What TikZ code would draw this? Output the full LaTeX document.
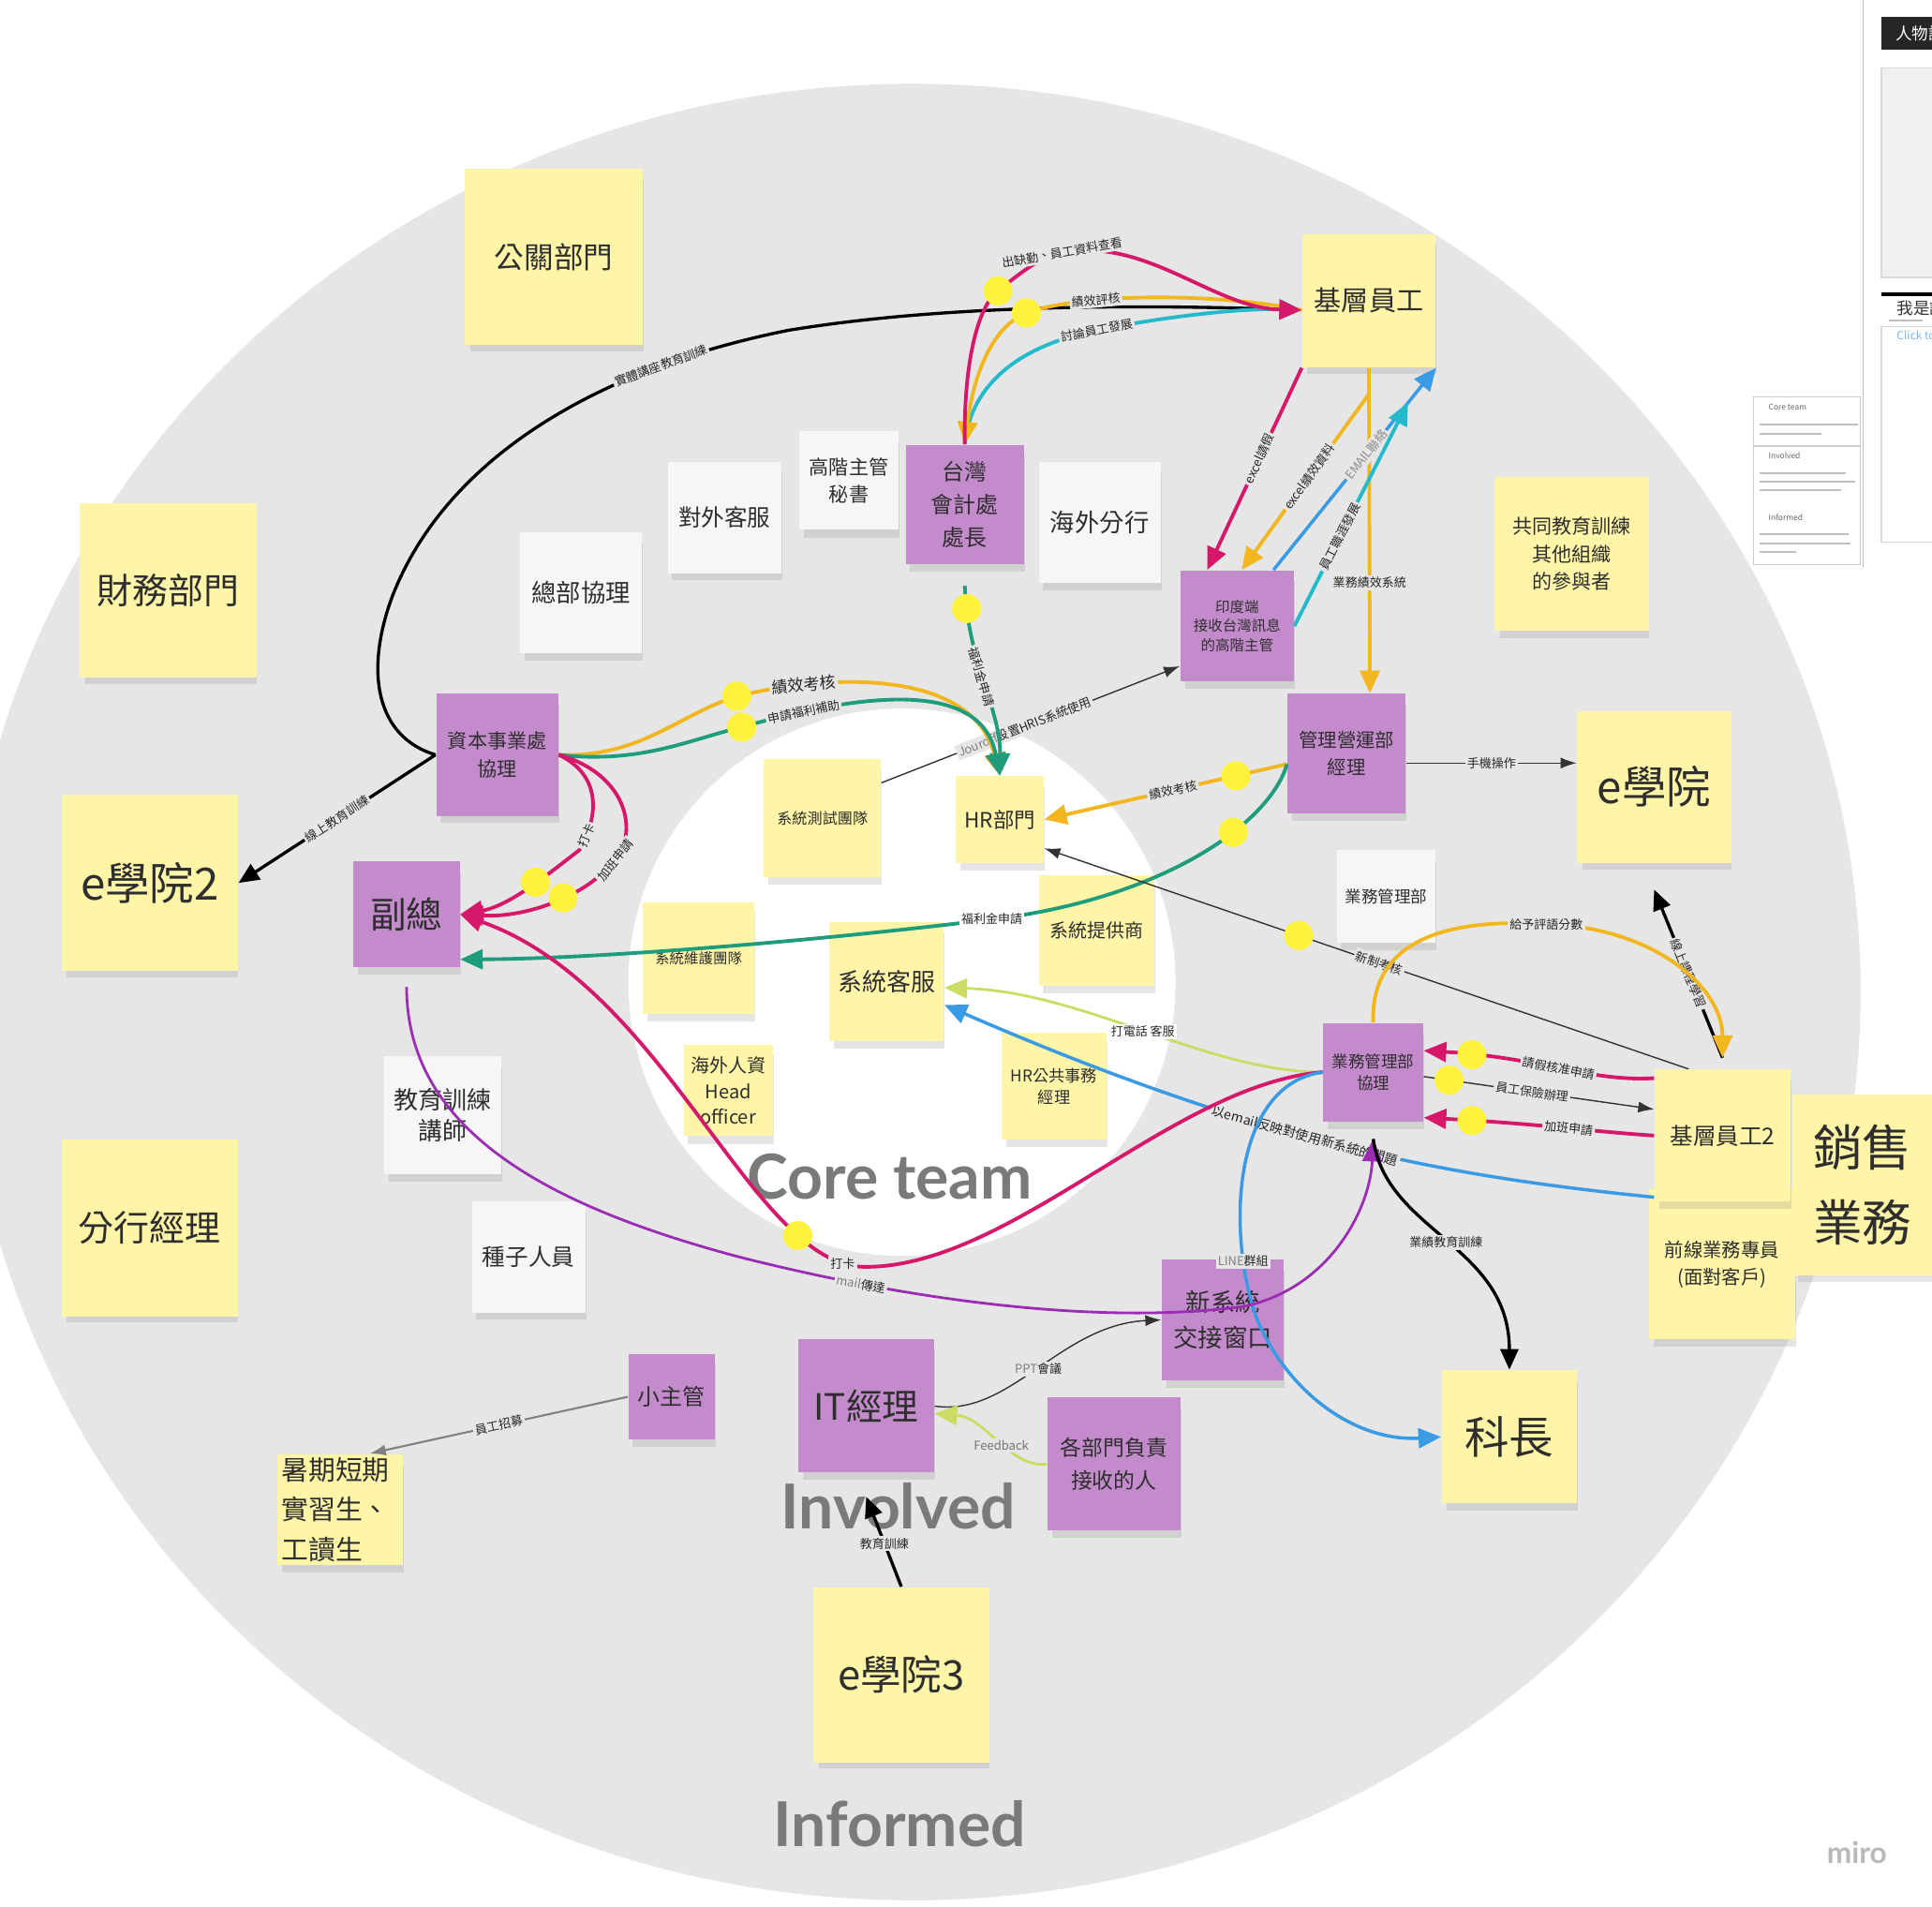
\documentclass[tikz,border=0pt]{standalone}
\usepackage{fontspec}
\setmainfont{Noto Sans CJK TC}
\newfontfamily\zonefont{Lato}
\usetikzlibrary{arrows.meta,shadows}
\definecolor{bggray}{HTML}{E6E6E6}
\definecolor{noteY}{HTML}{FFF5A8}
\definecolor{noteP}{HTML}{C38BCB}
\definecolor{noteW}{HTML}{F6F6F7}
\definecolor{dotY}{HTML}{FFF23C}
\definecolor{lnRed}{HTML}{D6186A}
\definecolor{lnGold}{HTML}{F2B61F}
\definecolor{lnCyan}{HTML}{23BACB}
\definecolor{lnBlue}{HTML}{3A9AE4}
\definecolor{lnGreen}{HTML}{1E9C7C}
\definecolor{lnPurple}{HTML}{9A2DB3}
\definecolor{lnLime}{HTML}{CCDB62}
\newcommand{\fsz}[2]{\fontsize{#1}{#2}\selectfont}
\tikzset{
  note/.style={draw=none, align=center, inner sep=1pt, text=black!82, drop shadow={shadow xshift=0.3mm, shadow yshift=-1mm, shadow scale=0.97, opacity=0.2}},
  ynote/.style={note, fill=noteY},
  pnote/.style={note, fill=noteP},
  wnote/.style={note, fill=noteW},
  zone/.style={text=black!52, font=\zonefont\bfseries\fsz{18.8}{22}},
  lbl/.style={fill=bggray, inner sep=0.6pt, text=black!85, font=\fsz{3.7}{4.4}},
  lblw/.style={lbl, fill=white},
  dot/.style={circle, fill=dotY, minimum size=3.1mm, inner sep=0pt},
  flowtip/.style={-{Triangle[length=2.4mm,width=2.1mm]}},
  backtip/.style={{Triangle[length=2.4mm,width=2.1mm]}-},
  thintip/.style={-{Latex[length=1.7mm,width=1.2mm]}},
  redline/.style={draw=lnRed, line width=1.1pt},
  goldline/.style={draw=lnGold, line width=1.1pt},
  cyanline/.style={draw=lnCyan, line width=1.1pt},
  blueline/.style={draw=lnBlue, line width=1pt},
  greenline/.style={draw=lnGreen, line width=1.1pt},
  purpleline/.style={draw=lnPurple, line width=0.8pt},
  limeline/.style={draw=lnLime, line width=0.8pt},
  thinline/.style={draw=black!80, line width=0.4pt},
  grayline/.style={draw=black!50, line width=0.6pt},
  blackflow/.style={draw=black, line width=0.95pt, -{Triangle[length=2.2mm,width=1.9mm]}}
}

\begin{document}
\begin{tikzpicture}[x=0.13151mm, y=-0.13151mm]
  \fill[white] (0,0) rectangle (1568,1547);
  \useasboundingbox (0,0) rectangle (1568,1547);
  \fill[bggray] (740,805) ellipse [x radius=770, y radius=737];
  \fill[white] (732,797) circle [radius=222];

  \node[ynote, minimum width=1.907cm, minimum height=1.881cm, font=\fsz{9}{11}] (pr) at (449.5,208.5) {公關部門};
  \node[ynote, minimum width=1.881cm, minimum height=1.867cm, font=\fsz{10.8}{13}] (fin) at (136.5,479) {財務部門};
  \node[ynote, minimum width=1.881cm, minimum height=1.881cm, font=\fsz{13.5}{16}] (elb) at (121.5,716.5) {e學院2};
  \node[ynote, minimum width=1.881cm, minimum height=1.881cm, font=\fsz{10.8}{13}] (brm) at (121.5,996.5) {分行經理};
  \node[ynote, minimum width=1.341cm, minimum height=1.184cm, text width=1.25cm, align=left, font=\fsz{8.2}{12}] (intern) at (276,1225) {暑期短期\\實習生、\\工讀生};
  \node[pnote, minimum width=0.921cm, minimum height=0.907cm, font=\fsz{6.8}{8}] (lead) at (545,1133.5) {小主管};
  \node[pnote, minimum width=1.447cm, minimum height=1.420cm, font=\fsz{11}{13}] (itm) at (703,1141) {IT經理};
  \node[pnote, minimum width=1.420cm, minimum height=1.420cm, font=\fsz{6.5}{9.8}] (dept) at (904,1188) {各部門負責\\接收的人};
  \node[pnote, minimum width=1.302cm, minimum height=1.289cm, font=\fsz{7.5}{10.9}] (newsys) at (992.5,1071) {新系統\\交接窗口};
  \node[ynote, minimum width=1.447cm, minimum height=1.420cm, font=\fsz{13.5}{16}] (chief) at (1225,1166) {科長};
  \node[ynote, minimum width=1.881cm, minimum height=1.867cm, font=\fsz{12.4}{15}] (elc) at (731.5,1359) {e學院3};
  \node[ynote, minimum width=1.420cm, minimum height=1.420cm, font=\fsz{8.3}{10}] (staff) at (1111,244) {基層員工};
  \node[pnote, minimum width=1.262cm, minimum height=1.276cm, font=\fsz{6.8}{9.9}] (twacc) at (783,409.5) {台灣\\會計處\\處長};
  \node[wnote, minimum width=1.052cm, minimum height=1.052cm, font=\fsz{6}{8.2}] (sec) at (689,390) {高階主管\\秘書};
  \node[wnote, minimum width=1.210cm, minimum height=1.184cm, font=\fsz{7}{9}] (extcs) at (588,420) {對外客服};
  \node[wnote, minimum width=1.302cm, minimum height=1.289cm, font=\fsz{7.5}{9}] (ovb) at (892.5,424) {海外分行};
  \node[wnote, minimum width=1.302cm, minimum height=1.289cm, font=\fsz{7.5}{9}] (hqm) at (471.5,481) {總部協理};
  \node[pnote, minimum width=1.210cm, minimum height=1.184cm, font=\fsz{4.4}{5.8}] (india) at (1004,508) {印度端\\接收台灣訊息\\的高階主管};
  \node[ynote, minimum width=1.644cm, minimum height=1.644cm, font=\fsz{6}{8.4}] (coedu) at (1275.5,449.5) {共同教育訓練\\其他組織\\的參與者};
  \node[pnote, minimum width=1.262cm, minimum height=1.276cm, font=\fsz{5.8}{8.2}] (opsm) at (1093,611.5) {管理營運部\\經理};
  \node[ynote, minimum width=1.644cm, minimum height=1.618cm, font=\fsz{13.5}{16}] (ela) at (1342.5,638.5) {e學院};
  \node[pnote, minimum width=1.302cm, minimum height=1.302cm, font=\fsz{6}{8.6}] (capm) at (403.5,612.5) {資本事業處\\協理};
  \node[pnote, minimum width=1.131cm, minimum height=1.131cm, font=\fsz{11}{13}] (vp) at (330,742) {副總};
  \node[ynote, minimum width=1.249cm, minimum height=1.262cm, font=\fsz{4.6}{6}] (test) at (667.5,664) {系統測試團隊};
  \node[ynote, minimum width=0.934cm, minimum height=0.921cm, font=\fsz{6.4}{8}] (hr) at (811.5,665) {HR部門};
  \node[ynote, minimum width=1.184cm, minimum height=1.197cm, font=\fsz{4.4}{6}] (maint) at (567,777.5) {系統維護團隊};
  \node[ynote, minimum width=1.223cm, minimum height=1.276cm, font=\fsz{7.4}{9}] (syscs) at (719.5,796.5) {系統客服};
  \node[ynote, minimum width=1.236cm, minimum height=1.184cm, font=\fsz{5.7}{7}] (vendor) at (890,755) {系統提供商};
  \node[ynote, minimum width=0.947cm, minimum height=0.973cm, font=\fsz{5.7}{7.9}] (ovhr) at (591,885) {海外人資\\Head\\officer};
  \node[ynote, minimum width=1.118cm, minimum height=1.144cm, font=\fsz{4.9}{6.4}] (hrpa) at (855.5,881.5) {HR公共事務\\經理};
  \node[wnote, minimum width=1.052cm, minimum height=0.986cm, font=\fsz{5}{6}] (bizdept) at (1125,727.5) {業務管理部};
  \node[pnote, minimum width=1.065cm, minimum height=1.052cm, font=\fsz{5}{6.7}] (bizm) at (1114.5,870) {業務管理部\\協理};
  \node[ynote, minimum width=1.565cm, minimum height=1.604cm, font=\fsz{5.8}{8.2}] (front) at (1397.5,1026) {前線業務專員\\(面對客戶)};
  \node[ynote, minimum width=1.447cm, minimum height=1.407cm, font=\fsz{7}{9}] (staffb) at (1398,921.5) {基層員工2};
  \node[ynote, minimum width=1.486cm, minimum height=1.933cm, font=\fsz{15}{22.5}] (sales) at (1511.5,961.5) {銷售\\業務};
  \node[wnote, minimum width=1.249cm, minimum height=1.262cm, font=\fsz{7.4}{9.4}] (trainer) at (359.5,905) {教育訓練\\講師};
  \node[wnote, minimum width=1.210cm, minimum height=1.184cm, font=\fsz{7}{9}] (seed) at (429,1020) {種子人員};

  \node[zone] (corelbl) at (722,955) {Core team};
  \node[zone] (invlbl) at (729,1222) {Involved};
  \node[zone] (inflbl) at (730,1480) {Informed};

  \draw[blackflow] (capm.west) .. controls (305,598) and (296,545) .. (318,485) .. controls (360,375) and (480,300) .. (640,268) node[lbl, sloped, pos=0.77]{實體講座教育訓練} .. controls (780,245) and (950,248) .. ([yshift=-1mm]staff.west);
  \draw[blackflow] (capm.west) -- node[lbl, sloped]{線上教育訓練} (elb.east);
  \draw[cyanline, flowtip] (twacc.north) .. controls (788,310) and (830,280) .. (890,268) node[lbl, sloped, pos=1]{討論員工發展} .. controls (950,256) and (1010,250) .. ([yshift=-1mm]staff.west);
  \draw[goldline, backtip] (twacc.north) .. controls (790,305) and (805,265) .. (833,254) node[dot]{} .. controls (880,237) and (990,238) .. ([yshift=-1mm]staff.west) node[lbl, sloped, pos=0.3]{績效評核};
  \draw[redline, flowtip] (twacc.north) .. controls (782,300) and (792,250) .. (810,236) node[dot]{} .. controls (830,220) and (845,208) .. (862,205) node[lbl, sloped, pos=1]{出缺勤、員工資料查看} .. controls (930,192) and (985,250) .. ([yshift=-1mm]staff.west);

  \draw[redline, flowtip] (staff.south west) -- node[lbl, sloped, pos=0.45]{excel請假} (india.118);
  \draw[goldline, flowtip] (staff.south) -- coordinate[pos=0.08] (ysplit) node[lbl, pos=0.66]{業務績效系統} (opsm.69);
  \draw[goldline, flowtip] (ysplit) -- node[lbl, sloped, pos=0.47]{excel績效資料} ([xshift=0.5mm]india.north);
  \draw[blueline, flowtip] (india.57) -- node[lbl, sloped, pos=0.57, text=black!45]{EMAIL聯絡} (staff.south east);
  \draw[cyanline, flowtip] (india.east) -- node[lbl, sloped, pos=0.4]{員工職涯發展} ([xshift=-3mm,yshift=-3.7mm]staff.south east);
  \draw[thinline, thintip] (test.31) -- node[lbl, sloped, pos=0.48]{\textcolor{black!50}{Jouroff}設置HRIS系統使用} (india.215);

  \draw[greenline, flowtip] ([yshift=-2.2mm]twacc.south) .. controls (786,540) and (812,575) .. (hr.north) node[dot, pos=0.1]{} node[lbl, sloped, pos=0.45]{福利金申請};
  \draw[goldline, flowtip] (capm.east) .. controls (520,615) and (550,580) .. (598,565) node[dot]{} .. controls (680,545) and (790,545) .. (hr.north) node[lbl, sloped, pos=0.21, font=\fsz{4.9}{6}]{績效考核};
  \draw[greenline, flowtip] (capm.east) .. controls (520,620) and (560,600) .. (602,590) node[dot]{} .. controls (680,568) and (795,545) .. (hr.north) node[lbl, sloped, pos=0.2]{申請福利補助};
  \draw[redline, flowtip] (capm.east) .. controls (490,630) and (485,665) .. (470,690) node[lbl, sloped, pos=0.85]{打卡} .. controls (450,705) and (415,735) .. (vp.east) node[dot, pos=0.45]{};
  \draw[redline, flowtip] (capm.east) .. controls (515,630) and (520,685) .. (492,705) node[lbl, sloped, pos=0.9]{加班申請} .. controls (475,725) and (430,745) .. (vp.east) node[dot, pos=0.42]{};

  \draw[goldline, flowtip] (opsm.190) -- node[dot, pos=0.21]{} node[lbl, sloped, pos=0.47]{績效考核} (hr.east);
  \draw[greenline, flowtip] (opsm.190) .. controls (1030,670) and (940,730) .. (805,746) node[dot, pos=0.36]{} node[lblw, pos=1]{福利金申請} .. controls (650,765) and (480,778) .. (vp.320);
  \draw[thinline, thintip] (opsm.351) -- node[lbl]{手機操作} (opsm.351 -| ela.west);
  \draw[thinline, thintip] (staffb.117) -- node[dot, pos=0.605]{} node[lbl, sloped, pos=0.48]{新制考核} (hr.327);

  \draw[blackflow] ([yshift=1.2mm]staffb.north) -- node[lbl, sloped]{線上課程學習} ([yshift=-2.8mm]ela.south);
  \draw[goldline, flowtip] (bizm.north) .. controls (1112,760) and (1180,745) .. (1255,750) node[lbl, pos=1]{給予評語分數} .. controls (1340,752) and (1398,800) .. ([yshift=1.2mm]staffb.north);
  \draw[redline, flowtip] (staffb.140) .. controls (1290,878) and (1250,858) .. (bizm.23) node[dot, pos=0.85]{} node[lbl, sloped, pos=0.5]{請假核准申請};
  \draw[redline, flowtip] (staffb.west) .. controls (1290,918) and (1250,912) .. (bizm.318) node[dot, pos=0.85]{} node[lbl, sloped, pos=0.45]{加班申請};
  \draw[thinline, thintip] (bizm.355) -- node[dot, pos=0.11]{} node[lbl, sloped, pos=0.47]{員工保險辦理} (staffb.159);

  \draw[blueline, flowtip] (staffb.222) .. controls (1180,955) and (1030,930) .. (syscs.338) node[lbl, sloped, pos=0.56, font=\fsz{4}{5}]{以email反映對使用新系統的問題};
  \draw[limeline, flowtip] (bizm.west) .. controls (980,870) and (880,805) .. (syscs.354) node[lblw, pos=0.5]{打電話 客服};
  \draw[redline, flowtip] (bizm.west) .. controls (950,880) and (820,1030) .. (700,1028) .. controls (610,1025) and (540,800) .. (vp.east) node[lbl, pos=0.06]{打卡} node[dot, pos=0.2]{};
  \draw[blueline, flowtip] (bizm.west) .. controls (1000,880) and (995,1000) .. (1020,1070) node[lbl, pos=0.8]{\textcolor{black!50}{LINE}群組} .. controls (1045,1130) and (1100,1170) .. (chief.west);
  \draw[purpleline, flowtip] ([yshift=-2mm]vp.south) .. controls (330,920) and (450,980) .. (600,1020) .. controls (750,1058) and (900,1075) .. (1010,1060) node[lbl, sloped, pos=0.22]{\textcolor{black!50}{mail}傳達} .. controls (1080,1045) and (1112,980) .. ([yshift=-1.8mm]bizm.south);
  \draw[blackflow] ([yshift=-1.8mm]bizm.south) .. controls (1125,1000) and (1225,1010) .. (chief.north) node[lbl, pos=0.5]{業績教育訓練};

  \draw[thinline, thintip] (itm.east) .. controls (820,1150) and (860,1075) .. (newsys.west) node[lbl, pos=0.5]{\textcolor{black!50}{PPT}會議};
  \draw[limeline, flowtip] (dept.west) .. controls (820,1192) and (800,1150) .. ([yshift=-0.8mm]itm.east) node[lbl, pos=0.45, text=black!55]{Feedback};
  \draw[grayline, thintip] (lead.west) -- node[lbl, sloped]{員工招募} (intern.62);
  \draw[blackflow] (elc.north) -- node[lbl, pos=0.48]{教育訓練} ([yshift=-2.5mm]itm.south);

  \draw[black!25, line width=0.4pt] (1512,0) -- (1512,460);
  \fill[black!85] (1527,14) rectangle (1570,40);
  \node[anchor=west, text=white, font=\fsz{5}{6}] (uititle) at (1529,27) {人物誌};
  \draw[black!15, fill=black!6] (1527,55) rectangle (1572,225);
  \fill[black] (1527,237) rectangle (1572,240);
  \node[anchor=west, text=black!80, font=\fsz{5}{6}] (uiwho) at (1530,250) {我是誰};
  \fill[black!25] (1533,259) rectangle (1560,261);
  \draw[black!15] (1527,265) rectangle (1572,440);
  \node[anchor=west, text=lnBlue!70, font=\fsz{3.4}{4}] (uiclick) at (1530,272) {Click to add};
  \draw[black!20, fill=white] (1423,322) rectangle (1510,458);
  \draw[black!20] (1423,362) -- (1510,362);
  \node[anchor=west, text=black!60, font=\fsz{2.4}{3}] (lgcore) at (1426,330) {Core team};
  \node[anchor=west, text=black!60, font=\fsz{2.4}{3}] (lginv) at (1426,370) {Involved};
  \node[anchor=west, text=black!60, font=\fsz{2.4}{3}] (lginf) at (1426,420) {Informed};
  \foreach \y/\w in {344/80, 351/50, 383/70, 390/78, 397/66, 433/72, 440/74, 447/30} {\fill[black!25] (1428,\y) rectangle (1428+\w,\y+1.5);}
  \node[text=black!28, font=\zonefont\bfseries\fsz{9}{10}] (miro) at (1507,1503) {miro};
\end{tikzpicture}
\end{document}
